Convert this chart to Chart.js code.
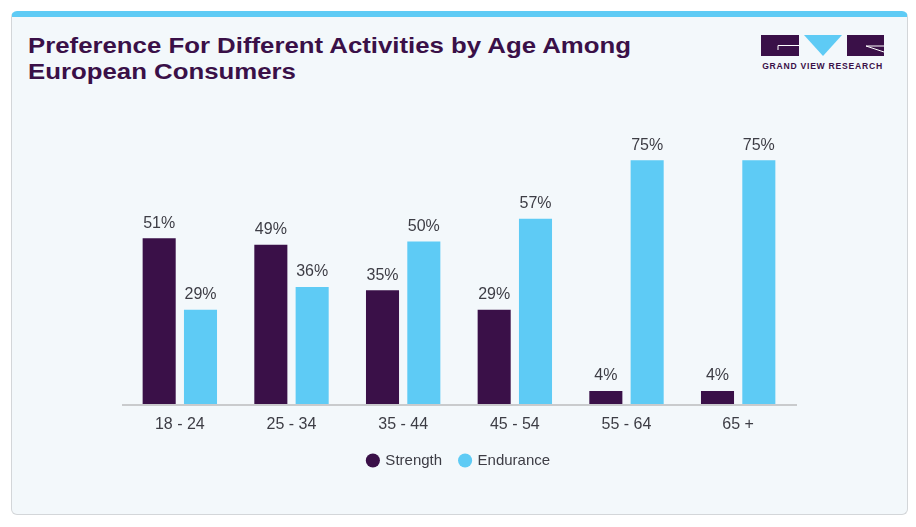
<!DOCTYPE html>
<html>
<head>
<meta charset="utf-8">
<script src="https://cdn.jsdelivr.net/npm/chart.js@4/dist/chart.umd.min.js"></script>
<style>
  html, body { margin: 0; padding: 0; background: #ffffff; }
  body { width: 916px; height: 527px; position: relative; overflow: hidden; }
  #card {
    position: absolute; left: 11px; top: 11px; width: 895px; height: 497px;
    background: #f3f8fb; border: 1px solid #d3d6d9; border-top: 6px solid #5ecbf5;
    border-radius: 6px;
  }
  #title {
    position: absolute; left: 28px; top: 33px; margin: 0;
    font-family: "Liberation Sans", Arial, sans-serif;
    font-weight: bold; font-size: 22px; line-height: 26px; color: #3a1048;
    transform-origin: left top; white-space: nowrap;
  }
  #title span { display: inline-block; }
  #logo { position: absolute; left: 760px; top: 33px; }
  #wrap { position: absolute; left: 0; top: 0; width: 916px; height: 527px; }
</style>
</head>
<body>
<div id="card"></div>
<div id="title"><span id="t1">Preference For Different Activities by Age Among</span><br><span>European Consumers</span></div>
<svg id="logo" width="130" height="40" viewBox="0 0 130 40">
  <rect x="1" y="2" width="38" height="21" fill="#3a1048"/>
  <path d="M18 12.5 H39 M18 12.5 V17" stroke="#ffffff" stroke-width="1" fill="none"/>
  <polygon points="44,2 82,2 63,23" fill="#5ecbf5"/>
  <rect x="87" y="2" width="37" height="21" fill="#3a1048"/>
  <path d="M106 13 L124 19 M106 13 H124" stroke="#ffffff" stroke-width="1" fill="none"/>
  <text x="62.5" y="36" text-anchor="middle" font-family="Liberation Sans, Arial, sans-serif"
        font-weight="bold" font-size="8.6" letter-spacing="0.75" fill="#3a1048">GRAND VIEW RESEARCH</text>
</svg>
<div id="wrap"><canvas id="myChart" width="916" height="527"></canvas></div>
<script>
// data
const ageGroups = ["18 - 24", "25 - 34", "35 - 44", "45 - 54", "55 - 64", "65 +"];
const strengthValues = [51, 49, 35, 29, 4, 4];
const enduranceValues = [29, 36, 50, 57, 75, 75];

// squeeze the title so the first line is as wide as in the picture
const t1 = document.getElementById("t1");
document.getElementById("title").style.transform =
  "scaleX(" + (603 / t1.getBoundingClientRect().width) + ")";

// draws the "51%" labels on top of each bar
const valueLabels = {
  id: "valueLabels",
  afterDatasetsDraw(chart) {
    const ctx = chart.ctx;
    ctx.save();
    ctx.font = "16px 'Liberation Sans', Arial, sans-serif";
    ctx.fillStyle = "#3d3d45";
    ctx.textAlign = "center";
    ctx.textBaseline = "bottom";
    chart.data.datasets.forEach((ds, i) => {
      chart.getDatasetMeta(i).data.forEach((bar, j) => {
        ctx.fillText(ds.data[j] + "%", bar.x, bar.y - 7);
      });
    });
    ctx.restore();
  },
};

// axis line a little longer than the plot, as in the picture
const baseLine = {
  id: "baseLine",
  beforeDatasetsDraw(chart) {
    const { ctx, chartArea } = chart;
    ctx.save();
    ctx.strokeStyle = "#c9cbcd";
    ctx.lineWidth = 2;
    ctx.beginPath();
    ctx.moveTo(chartArea.left - 2, chartArea.bottom + 1);
    ctx.lineTo(chartArea.right + 3, chartArea.bottom + 1);
    ctx.stroke();
    ctx.restore();
  },
};

const data = {
  labels: ageGroups,
  datasets: [
    {
      label: "Strength",
      data: strengthValues,
      backgroundColor: "#3a1048",
      categoryPercentage: 0.74,
      barPercentage: 0.8,
    },
    {
      label: "Endurance",
      data: enduranceValues,
      backgroundColor: "#5ecbf5",
      categoryPercentage: 0.74,
      barPercentage: 0.8,
    },
  ],
};

const config = {
  type: "bar",
  data,
  plugins: [baseLine, valueLabels],
  options: {
    responsive: false,
    animation: false,
    layout: { padding: { left: 124, right: 122, top: 144, bottom: 49 } },
    plugins: {
      tooltip: { enabled: false },
      legend: {
        position: "bottom",
        labels: {
          usePointStyle: true,
          pointStyle: "circle",
          boxWidth: 10,
          boxHeight: 10,
          padding: 18,
          color: "#3d3d45",
          font: { family: "'Liberation Sans', Arial, sans-serif", size: 15 },
        },
      },
    },
    scales: {
      x: {
        grid: { display: false, drawTicks: false },
        border: { display: false },
        ticks: {
          padding: 11,
          color: "#3d3d45",
          font: { family: "'Liberation Sans', Arial, sans-serif", size: 16 },
        },
        afterFit(scale) { scale.height = 31; },
      },
      y: {
        display: false,
        min: 0,
        max: 80,
      },
    },
  },
};

const myChart = new Chart(document.getElementById("myChart"), config);
</script>
</body>
</html>
